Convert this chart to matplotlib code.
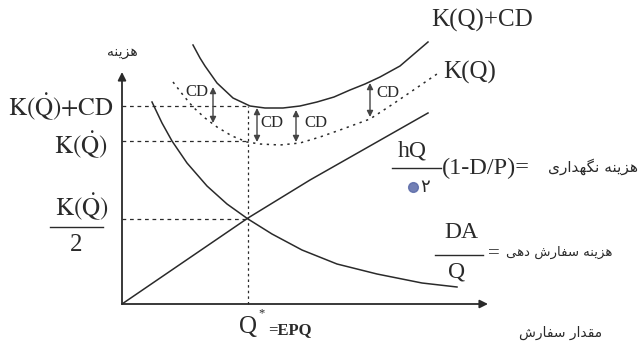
import matplotlib.pyplot as plt

plt.rcParams['mathtext.fontset'] = 'stix'

# curve points (q = order quantity, c = cost)
q_hold = [0, 126, 188, 306]
c_hold = [0, 86, 124, 191]

q_order = [30, 40, 50, 65, 85, 105, 126, 150, 180, 215, 255, 300, 335]
c_order = [202, 181, 163, 141, 118, 100, 85, 70, 54, 40, 30, 21, 17]

q_total_cd = [71, 78, 83, 95, 111, 128, 143, 161, 178, 195, 212, 228, 243, 258, 278, 306]
c_total_cd = [259, 246, 238, 221, 206, 198, 196, 196, 198, 202, 207, 214, 220, 227, 238, 262]

q_total = [51, 61, 71, 83, 95, 110, 125, 138, 158, 178, 198, 218, 248, 271, 293, 315]
c_total = [222, 209, 197, 186, 177, 168, 162, 160, 159, 161, 167, 174, 185, 200, 215, 230]

q_star = 126
k_star_cd = 198
k_star = 163
k_half = 85

# CD arrows: (q, top, bottom) and label positions
cd_q = [91, 135, 174, 248]
cd_top = [217, 196, 194, 221]
cd_bot = [181, 162, 162, 187]
cd_lab_q = [75, 150, 194, 266]
cd_lab_c = [212, 181, 181, 211]

# minimal persian shaping (isolated, final, initial, medial)
FORMS = {
    'ا': ('\uFE8D', '\uFE8E', None, None),
    'د': ('\uFEA9', '\uFEAA', None, None),
    'ر': ('\uFEAD', '\uFEAE', None, None),
    'ز': ('\uFEAF', '\uFEB0', None, None),
    'س': ('\uFEB1', '\uFEB2', '\uFEB3', '\uFEB4'),
    'ش': ('\uFEB5', '\uFEB6', '\uFEB7', '\uFEB8'),
    'ف': ('\uFED1', '\uFED2', '\uFED3', '\uFED4'),
    'ق': ('\uFED5', '\uFED6', '\uFED7', '\uFED8'),
    'م': ('\uFEE1', '\uFEE2', '\uFEE3', '\uFEE4'),
    'ن': ('\uFEE5', '\uFEE6', '\uFEE7', '\uFEE8'),
    'ه': ('\uFEE9', '\uFEEA', '\uFEEB', '\uFEEC'),
    'ی': ('\uFBFC', '\uFBFD', '\uFBFE', '\uFBFF'),
    'گ': ('\uFB92', '\uFB93', '\uFB94', '\uFB95'),
}


def fa(s):
    out = []
    for i, ch in enumerate(s):
        if ch not in FORMS:
            out.append(ch)
            continue
        prev = s[i - 1] if i > 0 else ''
        nxt = s[i + 1] if i + 1 < len(s) else ''
        jp = prev in FORMS and FORMS[prev][2] is not None
        jn = nxt in FORMS and FORMS[ch][2] is not None
        iso, fin, ini, med = FORMS[ch]
        if jp and jn:
            out.append(med)
        elif jp:
            out.append(fin)
        elif jn:
            out.append(ini)
        else:
            out.append(iso)
    return ''.join(reversed(out))


ink = '#2a2a2a'
serif = 'Liberation Serif'
farsi = 'DejaVu Sans'

fig = plt.figure(figsize=(6.42, 3.51), dpi=100)
ax = fig.add_axes([0, 0, 1, 1])
ax.set_xlim(-122, 520)
ax.set_ylim(-47, 304)
ax.axis('off')

# axes with arrows
ax.annotate('', xy=(0, 232), xytext=(0, 0),
            arrowprops=dict(arrowstyle='-|>', lw=1.3, color=ink, mutation_scale=12, shrinkA=0, shrinkB=0))
ax.annotate('', xy=(366, 0), xytext=(0, 0),
            arrowprops=dict(arrowstyle='-|>', lw=1.3, color=ink, mutation_scale=12, shrinkA=0, shrinkB=0))

# curves
ax.plot(q_hold, c_hold, color=ink, lw=1.1)
ax.plot(q_order, c_order, color=ink, lw=1.1)
ax.plot(q_total_cd, c_total_cd, color=ink, lw=1.1)
ax.plot(q_total, c_total, color=ink, lw=1.1, ls=(0, (1.5, 3)))

# guide lines
dash = (0, (3, 3))
ax.plot([0, q_star], [k_star_cd, k_star_cd], color=ink, lw=0.9, ls=dash)
ax.plot([0, q_star], [k_star, k_star], color=ink, lw=0.9, ls=dash)
ax.plot([0, q_star], [k_half, k_half], color=ink, lw=0.9, ls=dash)
ax.plot([q_star, q_star], [0, k_star_cd], color=ink, lw=0.9, ls=(0, (2, 2.5)))

# CD arrows
for q, t, b, lq, lc in zip(cd_q, cd_top, cd_bot, cd_lab_q, cd_lab_c):
    ax.annotate('', xy=(q, t), xytext=(q, b),
                arrowprops=dict(arrowstyle='<|-|>', lw=1.0, color='#444', mutation_scale=9, shrinkA=0, shrinkB=0))
    ax.text(lq, lc, 'CD', family=serif, fontsize=12, color=ink, ha='center', va='center')

# left labels
ax.text(-8, 197, r'$\mathrm{K}(\dot{\mathrm{Q}}){+}\mathrm{CD}$', fontsize=18, color=ink, ha='right', va='center')
ax.text(-14, 159, r'$\mathrm{K}(\dot{\mathrm{Q}})$', fontsize=18, color=ink, ha='right', va='center')
ax.text(-40, 97, r'$\mathrm{K}(\dot{\mathrm{Q}})$', fontsize=18, color=ink, ha='center', va='center')
ax.plot([-72, -19], [77, 77], color=ink, lw=1.0)
ax.text(-46, 59, '2', family=serif, fontsize=18, color=ink, ha='center', va='center')
ax.text(0, 252, fa('هزینه'), family=farsi, fontsize=10, color=ink, ha='center', va='center')

# right labels
ax.text(360, 284, 'K(Q)+CD', family=serif, fontsize=18, color=ink, ha='center', va='center')
ax.text(348, 232, 'K(Q)', family=serif, fontsize=18, color=ink, ha='center', va='center')

ax.text(290, 153, 'hQ', family=serif, fontsize=17, color=ink, ha='center', va='center')
ax.plot([270, 319], [136, 136], color=ink, lw=1.0)
ax.text(303, 117, '۲', family=farsi, fontsize=13, color=ink, ha='center', va='center')
ax.plot([291], [117], marker='o', ms=7, color='#5a6aa8', alpha=0.85)
ax.text(320, 136, '(1-D/P)=', family=serif, fontsize=17.5, color=ink, ha='left', va='center')
ax.text(516, 137, fa('هزینه نگهداری'), family=farsi, fontsize=11, color=ink, ha='right', va='center')

ax.text(339, 71, 'DA', family=serif, fontsize=17, color=ink, ha='center', va='center')
ax.plot([313, 361], [49, 49], color=ink, lw=1.0)
ax.text(335, 32, 'Q', family=serif, fontsize=17, color=ink, ha='center', va='center')
ax.text(372, 50, '=', family=serif, fontsize=15, color=ink, ha='center', va='center')
ax.text(384, 52, fa('هزینه سفارش دهی'), family=farsi, fontsize=9.5, color=ink, ha='left', va='center')

# bottom labels
ax.text(q_star, -23, 'Q', family=serif, fontsize=18, color=ink, ha='center', va='center')
ax.text(140, -9, '*', family=serif, fontsize=9, color=ink, ha='center', va='center')
ax.text(146, -26, '=EPQ', family=serif, fontsize=12, weight='bold', color=ink, ha='left', va='center')
ax.text(439, -29, fa('مقدار سفارش'), family=farsi, fontsize=10, color=ink, ha='center', va='center')

fig.savefig('out.png', dpi=100)
